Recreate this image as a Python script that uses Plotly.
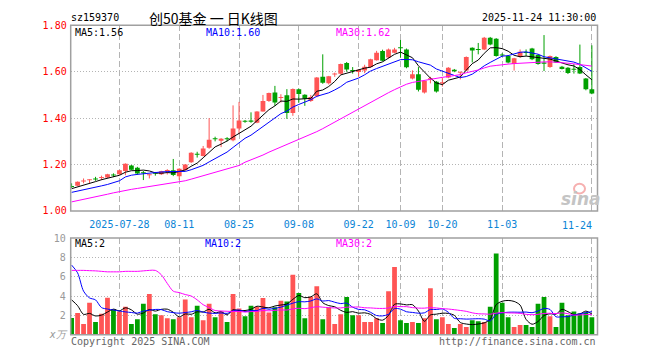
import plotly.graph_objects as go
import pandas as pd

W, H = 660, 360

# ---------------- data ----------------
holiday = ("2025-10-01", "2025-10-08")
dates = [d.strftime("%Y-%m-%d") for d in pd.bdate_range("2025-07-16", "2025-11-24")
         if not (holiday[0] <= d.strftime("%Y-%m-%d") <= holiday[1])]

open_ = [
    1.106, 1.108, 1.128, 1.134, 1.139, 1.143, 1.144, 1.156, 1.158, 1.172,
    1.196, 1.186, 1.166, 1.155, 1.163, 1.158, 1.173, 1.175, 1.150, 1.176,
    1.210, 1.246, 1.237, 1.272, 1.313, 1.303, 1.313, 1.305, 1.355, 1.388,
    1.388, 1.380, 1.429, 1.474, 1.511, 1.488, 1.499, 1.422, 1.525, 1.501,
    1.474, 1.494, 1.578, 1.550, 1.589, 1.591, 1.638, 1.607, 1.599, 1.605,
    1.620, 1.650, 1.689, 1.661, 1.682, 1.705, 1.696, 1.571, 1.589, 1.511,
    1.569, 1.557, 1.551, 1.575, 1.608, 1.597, 1.605, 1.703, 1.697, 1.696,
    1.747, 1.742, 1.674, 1.668, 1.633, 1.664, 1.684, 1.700, 1.672, 1.638,
    1.620, 1.664, 1.622, 1.617, 1.612, 1.620, 1.571, 1.525]
close = [
    1.104, 1.126, 1.130, 1.135, 1.137, 1.145, 1.158, 1.153, 1.175, 1.203,
    1.178, 1.161, 1.163, 1.157, 1.161, 1.171, 1.175, 1.155, 1.182, 1.200,
    1.251, 1.243, 1.269, 1.307, 1.310, 1.311, 1.310, 1.355, 1.390, 1.385,
    1.386, 1.429, 1.474, 1.508, 1.467, 1.490, 1.422, 1.526, 1.504, 1.483,
    1.491, 1.575, 1.553, 1.580, 1.591, 1.633, 1.610, 1.604, 1.608, 1.622,
    1.654, 1.682, 1.647, 1.696, 1.696, 1.702, 1.619, 1.589, 1.522, 1.561,
    1.571, 1.515, 1.553, 1.617, 1.602, 1.599, 1.664, 1.692, 1.695, 1.747,
    1.717, 1.668, 1.671, 1.640, 1.658, 1.686, 1.682, 1.654, 1.633, 1.636,
    1.668, 1.640, 1.612, 1.594, 1.610, 1.592, 1.525, 1.506]
high = [
    1.119, 1.127, 1.140, 1.136, 1.147, 1.152, 1.160, 1.162, 1.177, 1.205,
    1.198, 1.190, 1.172, 1.158, 1.168, 1.173, 1.180, 1.224, 1.184, 1.202,
    1.253, 1.255, 1.280, 1.400, 1.320, 1.314, 1.318, 1.455, 1.470, 1.392,
    1.425, 1.430, 1.500, 1.510, 1.539, 1.503, 1.525, 1.528, 1.527, 1.503,
    1.500, 1.577, 1.675, 1.582, 1.596, 1.635, 1.642, 1.620, 1.610, 1.630,
    1.656, 1.690, 1.695, 1.700, 1.703, 1.737, 1.700, 1.606, 1.620, 1.563,
    1.578, 1.560, 1.575, 1.620, 1.612, 1.600, 1.666, 1.705, 1.724, 1.750,
    1.750, 1.745, 1.680, 1.672, 1.660, 1.696, 1.696, 1.703, 1.675, 1.758,
    1.670, 1.667, 1.625, 1.620, 1.633, 1.717, 1.573, 1.714]
low = [
    1.099, 1.107, 1.119, 1.120, 1.130, 1.133, 1.142, 1.146, 1.156, 1.154,
    1.176, 1.155, 1.133, 1.140, 1.152, 1.155, 1.157, 1.150, 1.133, 1.174,
    1.207, 1.230, 1.235, 1.268, 1.300, 1.275, 1.300, 1.300, 1.330, 1.380,
    1.380, 1.378, 1.428, 1.470, 1.453, 1.467, 1.397, 1.410, 1.467, 1.453,
    1.470, 1.490, 1.548, 1.545, 1.578, 1.588, 1.600, 1.592, 1.578, 1.594,
    1.617, 1.648, 1.645, 1.658, 1.680, 1.661, 1.615, 1.567, 1.515, 1.506,
    1.550, 1.510, 1.536, 1.572, 1.598, 1.567, 1.603, 1.640, 1.675, 1.693,
    1.714, 1.665, 1.665, 1.636, 1.605, 1.660, 1.668, 1.650, 1.630, 1.603,
    1.617, 1.638, 1.610, 1.590, 1.592, 1.590, 1.520, 1.503]
volume = [  # 万手
    1.73, 2.23, 1.10, 3.30, 1.30, 2.17, 3.83, 2.60, 2.40, 2.90,
    1.10, 1.60, 3.20, 4.20, 2.10, 2.00, 1.70, 1.60, 1.80, 3.63,
    1.80, 3.00, 1.50, 3.20, 1.80, 2.40, 1.30, 4.20, 2.70, 1.90,
    3.00, 2.90, 3.80, 2.30, 2.83, 3.50, 3.43, 6.20, 4.30, 1.70,
    3.93, 5.00, 1.60, 2.80, 1.10, 2.10, 3.90, 2.00, 2.00, 1.30,
    1.30, 1.70, 1.20, 4.50, 7.00, 1.50, 1.20, 1.30, 1.20, 1.70,
    4.80, 1.60, 1.80, 1.10, 0.70, 1.10, 0.80, 1.50, 1.40, 1.30,
    2.90, 8.40, 3.30, 1.80, 0.80, 1.00, 1.00, 0.80, 3.20, 3.90,
    1.90, 0.80, 3.30, 2.00, 2.40, 2.20, 2.30, 1.80]

# moving-average values at the left edge (history before the window)
ma5_start = [1.096, 1.103, 1.110, 1.118]
ma10_start = [1.080, 1.085, 1.090, 1.096, 1.102, 1.108, 1.114, 1.122, 1.130]
ma30_start = [1.039, 1.044, 1.049, 1.055, 1.061, 1.067, 1.072, 1.078, 1.084, 1.089,
              1.093, 1.097, 1.101, 1.105, 1.109, 1.112, 1.116, 1.120, 1.124, 1.130,
              1.137, 1.144, 1.151, 1.158, 1.165, 1.172, 1.180, 1.188, 1.196]
vma5_start = [3.6, 3.0, 2.1, 2.2]
vma10_start = [7.2, 6.4, 4.5, 3.8, 3.6, 2.8, 2.65, 2.55, 2.45]
vma30_start = [6.65, 6.65, 6.65, 6.62, 6.60, 6.55, 6.50, 6.50, 6.50, 6.55,
               6.55, 6.55, 6.60, 6.65, 6.65, 6.20, 5.30, 4.50, 4.35, 4.15,
               4.00, 3.60, 3.10, 2.80, 2.50, 2.45, 2.42, 2.40, 2.40]

tick_dates = ["2025-07-28", "2025-08-11", "2025-08-25", "2025-09-08", "2025-09-22",
              "2025-10-09", "2025-10-20", "2025-11-03", "2025-11-24"]
tick_labels = ["2025-07-28", "08-11", "08-25", "09-08", "09-22", "10-09", "10-20", "11-03", "11-24"]

price_ticks = [1.00, 1.20, 1.40, 1.60, 1.80]
vol_ticks = [0, 2, 4, 6, 8, 10]
vol_tick_labels = ["<i>x万</i>", "2", "4", "6", "8", "10"]

n = len(dates)
assert all(len(a) == n for a in (open_, close, high, low, volume))


def ma(values, k, start):
    s = pd.Series(values, dtype=float).rolling(k).mean().tolist()
    return list(start) + s[len(start):]


ma5 = ma(close, 5, ma5_start)
ma10 = ma(close, 10, ma10_start)
ma30 = ma(close, 30, ma30_start)
vma5 = ma(volume, 5, vma5_start)
vma10 = ma(volume, 10, vma10_start)
vma30 = ma(volume, 30, vma30_start)

# ---------------- styling ----------------
RED = "#ff5555"
GREEN = "#00a000"
MONO = "DejaVu Sans Mono"
GRID = "#b4b4b4"
BORDER = "#a0a0a0"

X0, X1 = 70.7, 597.5
P_TOP, P_BOT = 20, 212
V_TOP, V_BOT = 240, 340
FIRST_X, STEP = 71.6, 5.98


def px(x):
    return x / W


def py(y):
    return 1 - y / H


xs = list(range(n))
up = [c >= o for o, c in zip(open_, close)]
colors = [RED if u else GREEN for u in up]

MIN_BODY = 0.0045
body_base, body_h = [], []
for o, c in zip(open_, close):
    lo, hi = min(o, c), max(o, c)
    if hi - lo < MIN_BODY:
        mid = (hi + lo) / 2
        lo, hi = mid - MIN_BODY / 2, mid + MIN_BODY / 2
    body_base.append(lo)
    body_h.append(hi - lo)

fig = go.Figure()

# wicks
for col, flag in ((RED, True), (GREEN, False)):
    wx, wy = [], []
    for i in xs:
        if up[i] == flag:
            wx += [i, i, None]
            wy += [low[i], high[i], None]
    fig.add_trace(go.Scatter(x=wx, y=wy, mode="lines", line=dict(color=col, width=1),
                             xaxis="x", yaxis="y", hoverinfo="skip"))

# bodies
fig.add_trace(go.Bar(x=xs, y=body_h, base=body_base, width=0.8,
                     marker=dict(color=colors, line=dict(width=0)),
                     xaxis="x", yaxis="y"))

# price MAs
for vals, col in ((ma5, "#000000"), (ma10, "#0000ff"), (ma30, "#ff00ff")):
    fig.add_trace(go.Scatter(x=xs, y=vals, mode="lines", line=dict(color=col, width=1),
                             xaxis="x", yaxis="y"))

# volume
fig.add_trace(go.Bar(x=xs, y=volume, width=0.8,
                     marker=dict(color=colors, line=dict(width=0)),
                     xaxis="x2", yaxis="y2"))
for vals, col in ((vma5, "#000000"), (vma10, "#0000ff"), (vma30, "#ff00ff")):
    fig.add_trace(go.Scatter(x=xs, y=vals, mode="lines",
                             line=dict(color=col, width=1, shape="spline", smoothing=0.8),
                             xaxis="x2", yaxis="y2"))

xr = [(X0 - FIRST_X) / STEP, (X1 - FIRST_X) / STEP]
tickvals = [dates.index(d) for d in tick_dates]
ticktext = tick_labels[:-1] + [""]

common_x = dict(range=xr, tickvals=tickvals, showgrid=True, gridcolor=GRID, gridwidth=1,
                griddash="6px,3px", zeroline=False, showline=False, fixedrange=True)

fig.update_layout(
    width=W, height=H,
    margin=dict(l=0, r=0, t=0, b=0),
    paper_bgcolor="white", plot_bgcolor="white",
    showlegend=False, barmode="overlay", hovermode=False,
    xaxis=dict(domain=[px(X0), px(X1)], anchor="y", ticktext=ticktext,
               tickfont=dict(family=MONO, size=10, color="#0a84d6"),
               ticks="outside", ticklen=4, tickcolor="rgba(0,0,0,0)", **common_x),
    xaxis2=dict(domain=[px(X0), px(X1)], anchor="y2", showticklabels=False, ticks="",
                **common_x),
    yaxis=dict(domain=[py(P_BOT), py(P_TOP)], range=[1.0, 1.8], tickvals=price_ticks,
               ticktext=[f"{v:.2f}" for v in price_ticks],
               tickfont=dict(family=MONO, size=10, color="#ff0000"),
               ticks="outside", ticklen=1, tickcolor="rgba(0,0,0,0)", fixedrange=True,
               showgrid=True, gridcolor=GRID, griddash="1px,2px", zeroline=False),
    yaxis2=dict(domain=[py(V_BOT), py(V_TOP)], range=[0, 10], tickvals=vol_ticks,
                ticktext=vol_tick_labels,
                tickfont=dict(family=MONO, size=10, color="#999999"),
                ticks="outside", ticklen=2, tickcolor="rgba(0,0,0,0)", fixedrange=True,
                showgrid=True, gridcolor=GRID, griddash="1px,2px", zeroline=False),
)

shapes = [
    dict(type="rect", xref="paper", yref="paper", x0=px(X0), x1=px(X1),
         y0=py(P_BOT), y1=py(P_TOP), line=dict(color=BORDER, width=1.5), layer="above"),
    dict(type="rect", xref="paper", yref="paper", x0=px(X0), x1=px(X1),
         y0=py(V_BOT), y1=py(V_TOP), line=dict(color=BORDER, width=1.5), layer="above"),
    dict(type="circle", xref="paper", yref="paper", x0=px(574), x1=px(585),
         y0=py(194), y1=py(184), line=dict(color="#f6b0b0", width=2), layer="below"),
]
fig.update_layout(shapes=shapes)


def ann(x, y, text, color="#000", size=10, xanchor="left", family=MONO):
    fig.add_annotation(x=px(x), y=py(y), xref="paper", yref="paper", text=text,
                       showarrow=False, xanchor=xanchor, yanchor="middle",
                       font=dict(family=family, size=size, color=color))


ann(69, 12, "sz159370")
ann(213, 12, "创50基金 一 日K线图", size=14, xanchor="center", family="Noto Sans CJK SC")
ann(598, 12, "2025-11-24 11:30:00", xanchor="right")
ann(73, 27, "MA5:1.56")
ann(204, 27, "MA10:1.60", color="#0000ff")
ann(334, 27, "MA30:1.62", color="#ff00ff")
ann(73, 246, "MA5:2")
ann(203, 246, "MA10:2", color="#0000ff")
ann(334, 246, "MA30:2", color="#ff00ff")
ann(577, 227, tick_labels[-1], color="#0a84d6", xanchor="center")
ann(69, 347, "Copyright 2025 SINA.COM", color="#666666")
ann(598, 347, "http://finance.sina.com.cn", color="#666666", xanchor="right")
ann(581, 200, "<b><i>sina</i></b>", color="#c4c4c4", size=17, xanchor="center",
    family="DejaVu Sans")

fig.write_html("out.html", config={"displayModeBar": False, "staticPlot": True},
               post_script="document.body.style.margin='0px';document.body.style.padding='0px';")
